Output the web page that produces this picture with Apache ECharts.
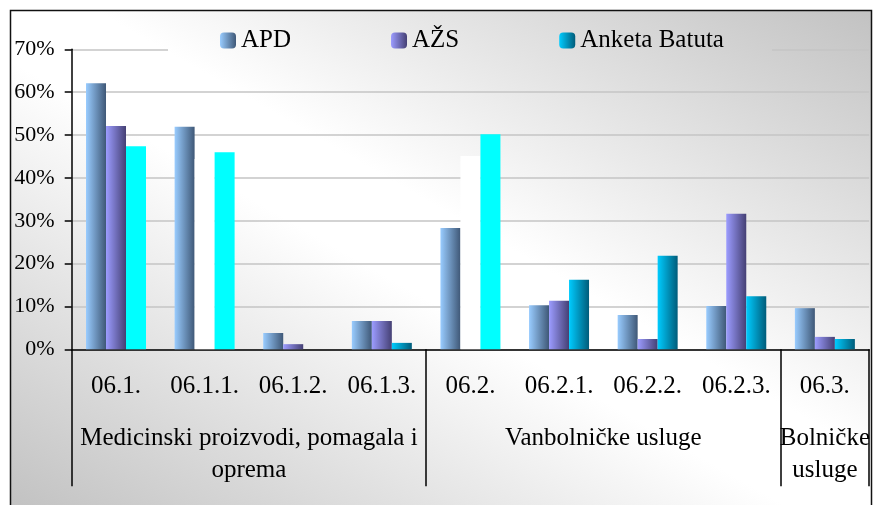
<!DOCTYPE html>
<html>
<head>
<meta charset="utf-8">
<style>
  html, body { margin: 0; padding: 0; background: #fff; }
  #chart { width: 873px; height: 505px; }
</style>
<script src="https://cdn.jsdelivr.net/npm/echarts@6/dist/echarts.min.js"></script>
</head>
<body>
<div id="chart"></div>
<script>
// chart data
const categories = ['06.1.', '06.1.1.', '06.1.2.', '06.1.3.', '06.2.', '06.2.1.', '06.2.2.', '06.2.3.', '06.3.']
const groupNames = ['Medicinski proizvodi, pomagala i\noprema', 'Vanbolničke usluge', 'Bolničke\nusluge']
const groupBounds = [0, 4, 8, 9]
const apd = [62.1, 51.9, 3.8, 6.6, 28.3, 10.3, 8.0, 10.1, 9.6]
const azs = [52.1, 44.4, 1.2, 6.6, 45.1, 11.3, 2.4, 31.6, 2.9]
const anketa = [47.4, 46.0, 0, 1.5, 50.2, 16.2, 21.8, 12.4, 2.4]
const yTicks = [0, 10, 20, 30, 40, 50, 60, 70]

const groupCenters = groupNames.map((n, i) => (groupBounds[i] + groupBounds[i + 1]) / 2)

const font = 'Liberation Serif'

function hGrad(c1, c2) {
  return new echarts.graphic.LinearGradient(0, 0, 1, 0, [
    { offset: 0, color: c1 },
    { offset: 1, color: c2 }
  ])
}

// frame background in page pixels; dx/dy shift it into a group's own coords
function frameGrad(dx = 0, dy = 0) {
  return new echarts.graphic.LinearGradient(227 - dx, 630 - dy, 654 - dx, -114 - dy, [
    { offset: 0, color: '#c2c2c2' },
    { offset: 0.45, color: '#ffffff' },
    { offset: 0.55, color: '#ffffff' },
    { offset: 1, color: '#c2c2c2' }
  ], true)
}

// a few bars came out flat in the original
const azsWhite = [1, 4]
const anketaFlat = [0, 1, 4]

const legendLeft = 168
const legendTop = 22
const legendPad = [6, 48, 10, 52]

const chart = echarts.init(document.getElementById('chart'))

chart.setOption({
  backgroundColor: '#fff',
  animation: false,
  graphic: [{
    type: 'rect',
    z: -10,
    silent: true,
    shape: { x: 10.5, y: 10.5, width: 861, height: 530 },
    style: { fill: frameGrad(), stroke: '#111', lineWidth: 1.5 }
  }],
  legend: {
    left: legendLeft,
    top: legendTop,
    padding: legendPad,
    itemGap: 100,
    itemWidth: 16,
    itemHeight: 16,
    backgroundColor: frameGrad(legendLeft + legendPad[3], legendTop + legendPad[0]),
    textStyle: { fontFamily: font, fontSize: 25, color: '#000' },
    data: ['APD', 'AŽS', 'Anketa Batuta']
  },
  grid: {
    left: 71.7,
    right: 0,
    top: 49.3,
    bottom: 155.7
  },
  xAxis: [{
    type: 'category',
    data: categories,
    axisLine: { lineStyle: { color: '#000', width: 1.5 } },
    axisTick: { interval: 0, length: 54, lineStyle: { color: '#000', width: 1.5 } },
    axisLabel: { interval: 0, margin: 25, fontFamily: font, fontSize: 25, color: '#000' }
  }, {
    type: 'value',
    min: 0,
    max: 9,
    position: 'bottom',
    axisLine: { show: false },
    splitLine: { show: false },
    axisTick: {
      show: true,
      customValues: groupBounds,
      length: 137,
      lineStyle: { color: '#000', width: 1.5 }
    },
    axisLabel: {
      customValues: groupCenters,
      margin: 73,
      lineHeight: 32,
      fontFamily: font,
      fontSize: 25,
      color: '#000',
      align: 'center',
      formatter: v => groupNames[groupCenters.indexOf(v)]
    }
  }],
  yAxis: {
    type: 'value',
    min: 0,
    max: 70,
    interval: 10,
    axisLine: { show: true, lineStyle: { color: '#000', width: 1.5 } },
    axisTick: { show: true, length: 7, lineStyle: { color: '#000', width: 1.5 } },
    axisLabel: {
      margin: 17,
      fontFamily: font,
      fontSize: 22,
      color: '#000',
      formatter: v => yTicks.includes(v) ? v + '%' : ''
    },
    splitLine: { lineStyle: { color: '#c4c4c4', width: 1.5 } }
  },
  series: [{
    name: 'APD',
    type: 'bar',
    barWidth: 20,
    barGap: '0%',
    itemStyle: { color: hGrad('#99ccff', '#3f5877') },
    data: apd
  }, {
    name: 'AŽS',
    type: 'bar',
    barWidth: 20,
    barGap: '0%',
    itemStyle: { color: hGrad('#9c9cff', '#454074') },
    data: azs.map((v, i) => azsWhite.includes(i) ? { value: v, itemStyle: { color: '#fff' } } : v)
  }, {
    name: 'Anketa Batuta',
    type: 'bar',
    barWidth: 20,
    barGap: '0%',
    itemStyle: { color: hGrad('#00ccff', '#005c7a') },
    data: anketa.map((v, i) => anketaFlat.includes(i) ? { value: v, itemStyle: { color: '#00ffff' } } : v)
  }]
})
</script>
</body>
</html>
